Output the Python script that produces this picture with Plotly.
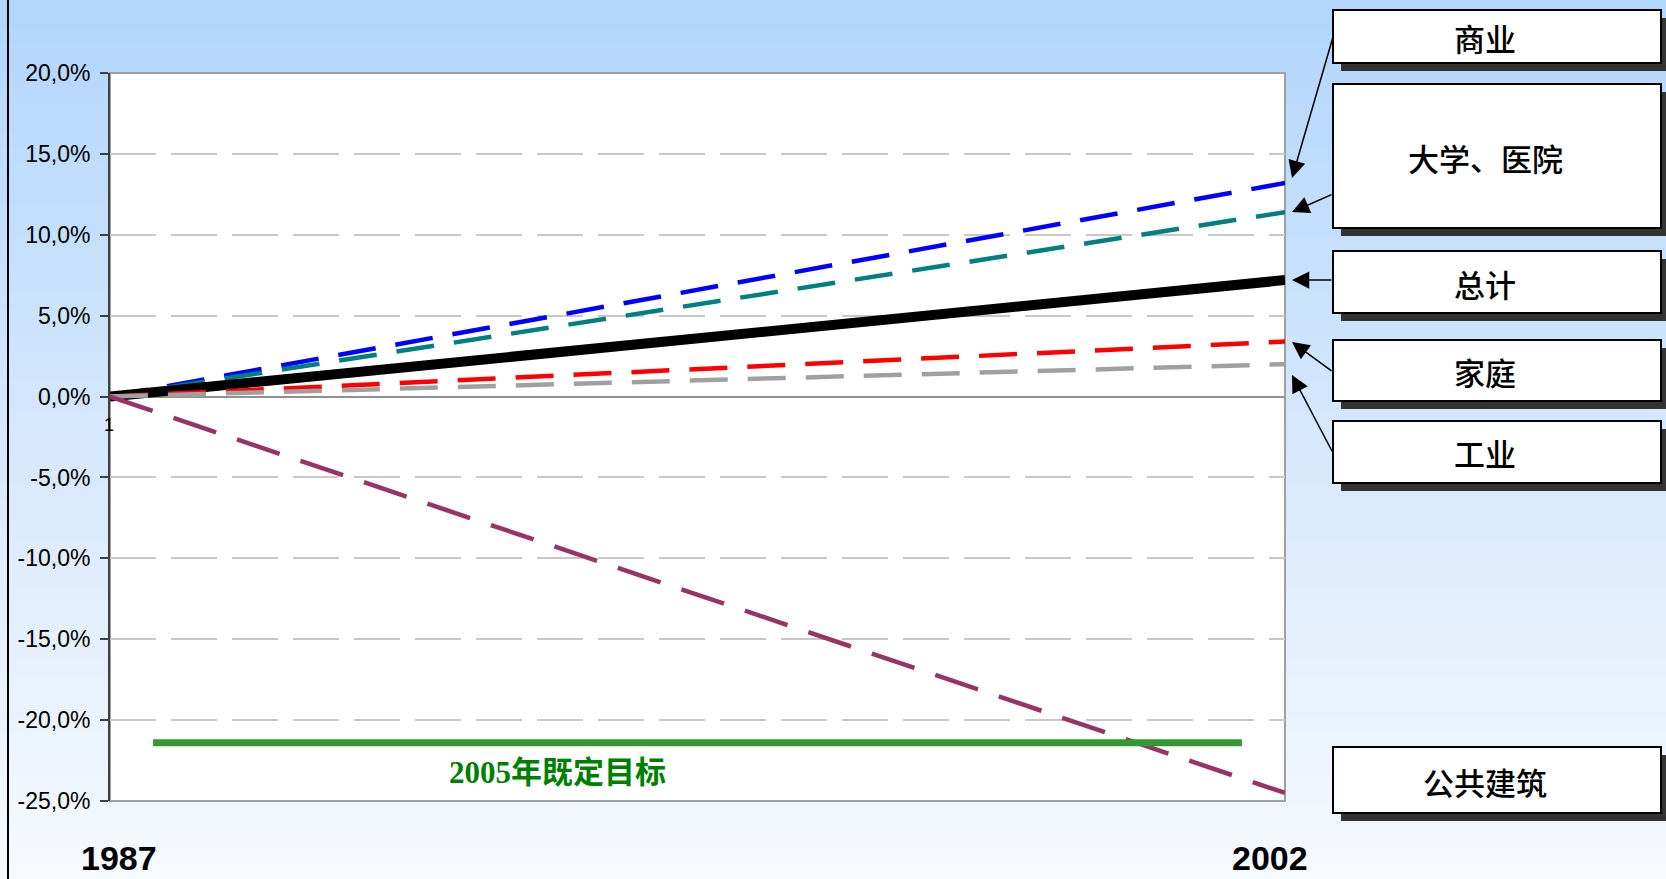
"""Energy-use change 1987-2002 by sector, with the 2005 target line."""

import plotly.graph_objects as go

# ---- data ----
years = [1987, 2002]
sectors = ["商业", "大学、医院", "总计", "家庭", "工业", "公共建筑"]
change_pct = {
    "商业": [0.0, 13.2],
    "大学、医院": [0.0, 11.4],
    "总计": [0.0, 7.2],
    "家庭": [0.0, 3.4],
    "工业": [0.0, 2.0],
    "公共建筑": [0.0, -24.5],
}
target_label = "2005年既定目标"
target_value = -21.4
target_years = [1987.55, 2001.45]
y_ticks = [20, 15, 10, 5, 0, -5, -10, -15, -20, -25]
y_ticktext = ["20,0%", "15,0%", "10,0%", "5,0%", "0,0%",
              "-5,0%", "-10,0%", "-15,0%", "-20,0%", "-25,0%"]

# ---- styling ----
colors = {
    "商业": "#0000ff",
    "大学、医院": "#008080",
    "总计": "#000000",
    "家庭": "#ff0000",
    "工业": "#a0a0a0",
    "公共建筑": "#993366",
}
widths = {"总计": 10}
dashes = {"总计": "solid", "公共建筑": "45px,22px"}

# plot area in pixels
L, T, W, H = 110, 73, 1175, 728
FIG_W, FIG_H = 1666, 879


def px(x):
    return (x - L) / W


def py(y):
    return (T + H - y) / H


fig = go.Figure()

for name in sectors:
    fig.add_trace(go.Scatter(
        x=years, y=change_pct[name], mode="lines", name=name,
        line=dict(color=colors[name], width=widths.get(name, 4.5),
                  dash=dashes.get(name, "38px,20px")),
        cliponaxis=False, showlegend=False,
    ))

fig.add_trace(go.Scatter(
    x=target_years, y=[target_value, target_value], mode="lines",
    line=dict(color="#339933", width=7), showlegend=False,
))

shapes = []
# gradient background, light blue at top fading to near-white
n_bands = 60
top_rgb = (178, 214, 252)
mid_rgb = (214, 232, 252)
bot_rgb = (246, 249, 254)
for i in range(n_bands):
    f = i / (n_bands - 1)
    if f < 0.5:
        g = f / 0.5
        c = [round(top_rgb[k] + (mid_rgb[k] - top_rgb[k]) * g) for k in range(3)]
    else:
        g = (f - 0.5) / 0.5
        c = [round(mid_rgb[k] + (bot_rgb[k] - mid_rgb[k]) * g) for k in range(3)]
    y0 = FIG_H * i / n_bands
    y1 = FIG_H * (i + 1) / n_bands + 1
    shapes.append(dict(type="rect", xref="paper", yref="paper", layer="below",
                       x0=px(0), x1=px(FIG_W), y0=py(y1), y1=py(y0),
                       fillcolor=f"rgb({c[0]},{c[1]},{c[2]})", line=dict(width=0)))
# plot area and frame
shapes.append(dict(type="rect", xref="paper", yref="paper", layer="below",
                   x0=0, x1=1, y0=0, y1=1, fillcolor="white", line=dict(width=0)))
shapes.append(dict(type="rect", xref="paper", yref="paper", layer="below",
                   x0=0, x1=1, y0=0, y1=1, line=dict(color="#a0a0a0", width=2)))
# left page rule
shapes.append(dict(type="line", xref="paper", yref="paper",
                   x0=px(8), x1=px(8), y0=py(0), y1=py(FIG_H),
                   line=dict(color="#000000", width=2)))

# label boxes: (text, left, top, right, bottom)
boxes = [
    ("商业", 1333, 10, 1661, 63),
    ("大学、医院", 1333, 84, 1661, 228),
    ("总计", 1333, 251, 1661, 313),
    ("家庭", 1333, 340, 1661, 401),
    ("工业", 1333, 421, 1661, 483),
    ("公共建筑", 1333, 747, 1661, 813),
]
annotations = []
for text, x0, y0, x1, y1 in boxes:
    shapes.append(dict(type="rect", xref="paper", yref="paper",
                       x0=px(x0 + 8), x1=px(x1 + 8), y0=py(y1 + 8), y1=py(y0 + 8),
                       fillcolor="#333333", line=dict(width=0)))
    shapes.append(dict(type="rect", xref="paper", yref="paper",
                       x0=px(x0), x1=px(x1), y0=py(y1), y1=py(y0),
                       fillcolor="white", line=dict(color="#000000", width=2)))
    annotations.append(dict(
        xref="paper", yref="paper", x=px(1485), y=py((y0 + y1) / 2 + 1),
        xanchor="center", yanchor="middle", text=text, showarrow=False,
        font=dict(family="Noto Sans CJK SC", size=31, color="#000000", weight=500),
    ))

# arrows: (tail x, tail y, tip x, tip y)
arrows = [
    (1333, 37, 1292, 178),
    (1333, 194, 1292, 212),
    (1333, 280, 1292, 280),
    (1333, 372, 1292, 342),
    (1333, 453, 1292, 375),
]
for tx, ty, hx, hy in arrows:
    annotations.append(dict(
        xref="paper", yref="paper", x=px(hx), y=py(hy), text="",
        showarrow=True, ax=tx - hx, ay=ty - hy,
        arrowhead=2, arrowsize=2.3, arrowwidth=1.5, arrowcolor="#000000",
    ))

annotations += [
    dict(xref="paper", yref="paper", x=px(557), y=py(772), text=f"<b>{target_label}</b>",
         xanchor="center", yanchor="middle", showarrow=False,
         font=dict(family="Liberation Serif, Noto Sans CJK SC", size=31, color="#008000")),
    dict(xref="paper", yref="paper", x=px(119), y=py(858), text="<b>1987</b>",
         xanchor="center", yanchor="middle", showarrow=False,
         font=dict(family="Liberation Sans", size=34, color="#000000")),
    dict(xref="paper", yref="paper", x=px(1270), y=py(858), text="<b>2002</b>",
         xanchor="center", yanchor="middle", showarrow=False,
         font=dict(family="Liberation Sans", size=34, color="#000000")),
    dict(xref="paper", yref="paper", x=px(109), y=py(425), text="1",
         xanchor="center", yanchor="middle", showarrow=False,
         font=dict(family="Liberation Sans", size=18, color="#000000")),
]

fig.update_layout(
    width=FIG_W, height=FIG_H,
    margin=dict(l=L, r=FIG_W - L - W, t=T, b=FIG_H - T - H, pad=0),
    paper_bgcolor="#e6f0fc",
    plot_bgcolor="rgba(0,0,0,0)",
    shapes=shapes,
    annotations=annotations,
    xaxis=dict(range=[years[0], years[-1]], showgrid=False, zeroline=False,
               showline=False, showticklabels=False, ticks=""),
    yaxis=dict(range=[-25, 20], tickvals=y_ticks, ticktext=y_ticktext,
               ticks="outside", ticklen=8, tickwidth=1.5, tickcolor="#404040",
               ticklabelstandoff=5,
               showline=True, linecolor="#404040", linewidth=2,
               showgrid=True, gridcolor="#c8c8c8", gridwidth=1.5, griddash="46px,15px",
               zeroline=True, zerolinecolor="#909090", zerolinewidth=2,
               tickfont=dict(family="Liberation Sans", size=23, color="#000000")),
)

fig.write_html(
    "out.html",
    config={"displayModeBar": False},
    post_script="document.body.style.margin='0';document.body.style.overflow='hidden';",
)
